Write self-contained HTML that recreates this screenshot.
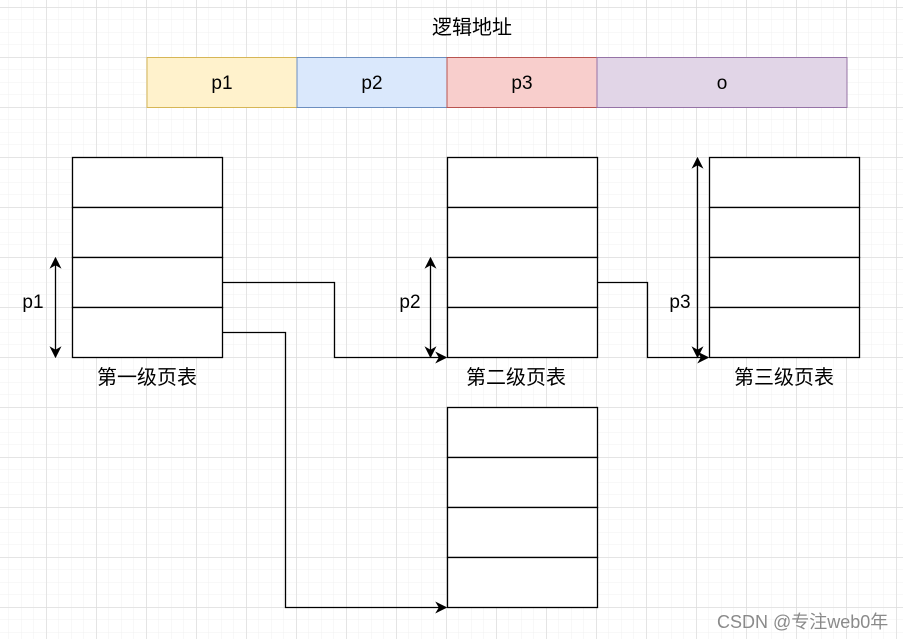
<!DOCTYPE html>
<html><head><meta charset="utf-8"><style>
html,body{margin:0;padding:0;background:#fff;}
svg{display:block;}
text{font-family:"Liberation Sans","Noto Sans CJK SC",sans-serif;}
</style></head><body>
<svg width="903" height="639" xmlns="http://www.w3.org/2000/svg">
<defs>
<pattern id="minor" x="-4" y="-5.5" width="12.5" height="12.5" patternUnits="userSpaceOnUse">
<path d="M0 0H12.5M0 0V12.5" stroke="#f0f0f0" stroke-width="1" fill="none"/>
</pattern>
<pattern id="major" x="46.5" y="7.5" width="50" height="50" patternUnits="userSpaceOnUse">
<path d="M0 0H50M0 0V50" stroke="#d8d8d8" stroke-width="1" fill="none"/>
</pattern>
<marker id="ah" viewBox="0 0 10 10" refX="9" refY="5" markerWidth="12" markerHeight="12" markerUnits="userSpaceOnUse" orient="auto-start-reverse">
<path d="M0 0L10 5L0 10L3 5Z" fill="#000"/>
</marker>
</defs>
<rect width="903" height="639" fill="#fff"/>
<rect width="903" height="639" fill="url(#minor)"/>
<rect width="903" height="639" fill="url(#major)"/>

<text x="472" y="34" font-size="20" text-anchor="middle">逻辑地址</text>
<rect x="147" y="57.5" width="150" height="50" fill="#fff2cc" stroke="#d6b656"/>
<rect x="297" y="57.5" width="150" height="50" fill="#dae8fc" stroke="#6c8ebf"/>
<rect x="447" y="57.5" width="150" height="50" fill="#f8cecc" stroke="#b85450"/>
<rect x="597" y="57.5" width="250" height="50" fill="#e1d5e7" stroke="#9673a6"/>
<g font-size="19" text-anchor="middle">
<text x="222" y="89">p1</text><text x="372" y="89">p2</text><text x="522" y="89">p3</text><text x="722" y="89">o</text>
</g>

<g fill="#fff" stroke="#000" stroke-width="1.3">
<g id="t"><rect x="72.5" y="157.5" width="150" height="50"/><rect x="72.5" y="207.5" width="150" height="50"/><rect x="72.5" y="257.5" width="150" height="50"/><rect x="72.5" y="307.5" width="150" height="50"/></g>
<use href="#t" x="375"/>
<use href="#t" x="637"/>
<use href="#t" x="375" y="250"/>
</g>

<g fill="none" stroke="#000" stroke-width="1.3">
<path d="M222.5 282.5H334.5V357.5H446" marker-end="url(#ah)"/>
<path d="M222.5 332.5H285.5V607.5H446" marker-end="url(#ah)"/>
<path d="M597.5 282.5H647.5V357.5H708" marker-end="url(#ah)"/>
<path d="M55.5 258V357" marker-start="url(#ah)" marker-end="url(#ah)"/>
<path d="M430.5 258V357" marker-start="url(#ah)" marker-end="url(#ah)"/>
<path d="M697.5 158V357" marker-start="url(#ah)" marker-end="url(#ah)"/>
</g>

<g font-size="19" text-anchor="middle">
<text x="33" y="308">p1</text><text x="410" y="308">p2</text><text x="680" y="308">p3</text>
</g>
<g font-size="20" text-anchor="middle">
<text x="147" y="384">第一级页表</text>
<text x="516" y="384">第二级页表</text>
<text x="784" y="384">第三级页表</text>
</g>
<text x="717" y="628" font-size="18" fill="#8a8a8a">CSDN @专注web0年</text>
</svg>
</body></html>
